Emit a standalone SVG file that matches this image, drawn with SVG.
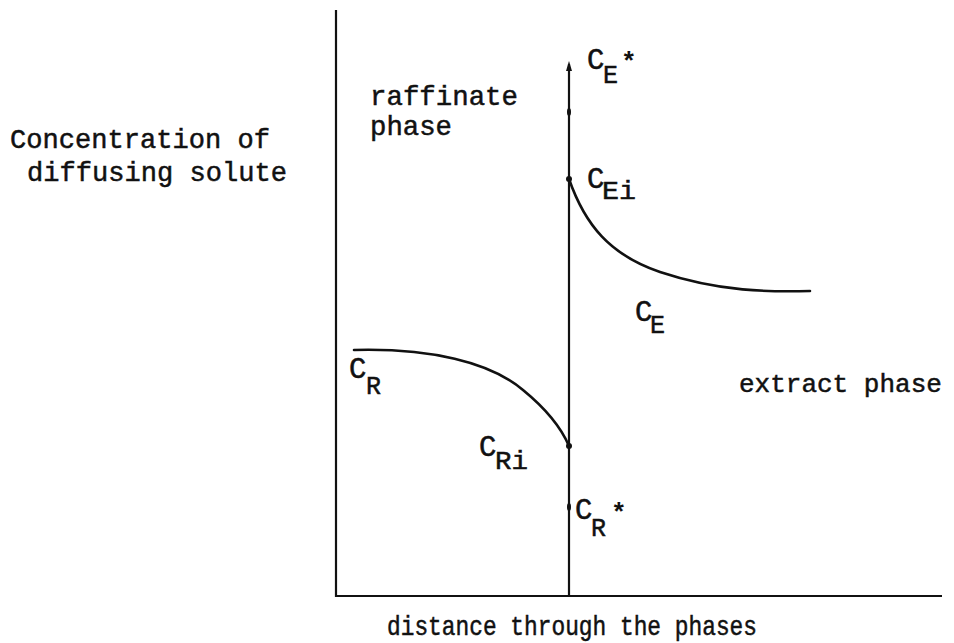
<svg xmlns="http://www.w3.org/2000/svg" width="954" height="643" viewBox="0 0 954 643">
<style>
.t{font-family:"Liberation Mono","Courier New",monospace;font-size:28px;fill:#111;stroke:#111;stroke-width:0.5}
.c{font-family:"Liberation Mono","Courier New",monospace;font-size:29px;fill:#111;stroke:#111;stroke-width:0.5}
.s{font-family:"Liberation Mono","Courier New",monospace;font-size:25px;fill:#111;stroke:#111;stroke-width:0.5}
.st{font-family:"Liberation Mono","Courier New",monospace;font-size:26px;font-weight:bold;fill:#111}
.ax{stroke:#111;stroke-width:2.2;fill:none}
.cv{stroke:#111;stroke-width:2.6;fill:none;stroke-linecap:round}
</style>
<rect width="954" height="643" fill="#fff"/>
<g id="axes">
<path class="ax" d="M336,10 L336,596 L942,596"/>
<line class="ax" x1="569" y1="596" x2="569" y2="64" stroke-width="1.8"/>
<path d="M566,71 L569,61 L572,71 Z" fill="#111"/>
<ellipse cx="569" cy="112" rx="2" ry="4" fill="#111"/>
<circle cx="569" cy="179" r="3" fill="#111"/>
<circle cx="569" cy="446" r="3" fill="#111"/>
<ellipse cx="569" cy="507" rx="2" ry="4" fill="#111"/>
</g>
<g id="curves">
<path class="cv" d="M569,179 C585,225 610,255 660,272 C720,292 770,292 810,291"/>
<path class="cv" d="M354,350 C430,348 490,362 523,390 C545,408 560,425 569,446"/>
</g>
<g id="labels">
<text class="t" x="10" y="148" textLength="260" lengthAdjust="spacingAndGlyphs">Concentration of</text>
<text class="t" x="27" y="181" textLength="260" lengthAdjust="spacingAndGlyphs">diffusing solute</text>
<text class="t" x="370" y="105" textLength="148" lengthAdjust="spacingAndGlyphs">raffinate</text>
<text class="t" x="370" y="135" textLength="82" lengthAdjust="spacingAndGlyphs">phase</text>
<text class="t" x="739" y="392" style="font-size:26px">extract phase</text>
<text class="t" x="387" y="635" textLength="370" lengthAdjust="spacingAndGlyphs">distance through the phases</text>
</g>
<g id="symbols">
<text class="c" x="587" y="69">C</text><text class="s" x="603" y="83">E</text><text class="st" x="621" y="70">*</text>
<text class="c" x="587" y="188">C</text><text class="s" x="602" y="199" textLength="34" lengthAdjust="spacingAndGlyphs">Ei</text>
<text class="c" x="635" y="321">C</text><text class="s" x="650" y="333">E</text>
<text class="c" x="349" y="378">C</text><text class="s" x="366" y="394">R</text>
<text class="c" x="479" y="456">C</text><text class="s" x="495" y="469" textLength="33" lengthAdjust="spacingAndGlyphs">Ri</text>
<text class="c" x="575" y="519">C</text><text class="s" x="591" y="536">R</text><text class="st" x="611" y="521">*</text>
</g>
</svg>
